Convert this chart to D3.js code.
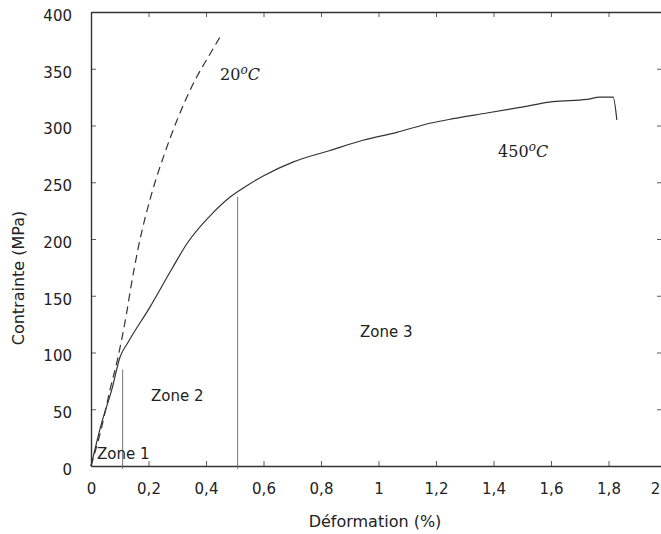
<!DOCTYPE html>
<html>
<head>
<meta charset="utf-8">
<script src="https://cdn.jsdelivr.net/npm/d3@7"></script>
<style>
  body { margin: 0; background: #fff; overflow: hidden; }
  svg { display: block; }
  .axis path, .axis line { stroke: #333; }
  .axis text { font-family: "DejaVu Sans", sans-serif; font-size: 15px; fill: #222; }
</style>
</head>
<body>
<svg id="chart" width="661" height="534"></svg>
<script>
// 450 °C curve (strain %, stress MPa)
const strain450 = [0, 0.037, 0.072, 0.101, 0.129, 0.205, 0.282, 0.334, 0.424, 0.484, 0.542, 0.599, 0.704, 0.831, 0.946, 1.064, 1.179, 1.259, 1.377, 1.492, 1.607, 1.725, 1.770, 1.816, 1.829];
const stress450 = [0, 38, 67, 96, 109, 140, 174, 196, 223, 237, 247, 255.5, 268, 278, 287, 294, 302, 306, 311, 316, 321, 323, 325, 325, 305];

// 20 °C curve
const strain20 = [0, 0.037, 0.066, 0.094, 0.124, 0.139, 0.165, 0.211, 0.257, 0.303, 0.362, 0.407, 0.449];
const stress20 = [0, 34, 67, 96, 135, 158, 193, 240, 276, 307, 340, 360, 378];

// zone limits
const zoneStrain = [0.11, 0.51];
const zoneTop = [85, 237];
const zoneNames = ['Zone 1', 'Zone 2', 'Zone 3'];

const xTicks = [0, 0.2, 0.4, 0.6, 0.8, 1, 1.2, 1.4, 1.6, 1.8, 2];
const yTicks = [0, 50, 100, 150, 200, 250, 300, 350, 400];

(function() {
const svg = d3.select('#chart');
const m = { left: 91, right: 666, top: 12, bottom: 466 };

const x = d3.scaleLinear().domain([0, 2]).range([m.left, m.right]);
const y = d3.scaleLinear().domain([0, 400]).range([m.bottom, m.top]);

const fmt = d => String(d).replace('.', ',');

// axes (ticks pointing inward)
svg.append('g')
    .attr('class', 'axis')
    .attr('transform', `translate(0,${m.bottom})`)
    .call(d3.axisBottom(x).tickValues(xTicks).tickFormat(fmt).tickSizeInner(-5).tickSizeOuter(0).tickPadding(17))
    .call(g => g.selectAll('.tick:last-of-type text').attr('x', -11));

svg.append('g')
    .attr('class', 'axis')
    .attr('transform', `translate(${m.left},0)`)
    .call(d3.axisLeft(y).tickValues(yTicks).tickSizeInner(-5).tickSizeOuter(0).tickPadding(19))
    .call(g => g.selectAll('.tick text').attr('dy', '0.62em').attr('y', -1));

svg.append('g')
    .attr('class', 'axis')
    .attr('transform', `translate(0,${m.top})`)
    .call(d3.axisTop(x).tickValues(xTicks).tickFormat('').tickSizeInner(-5).tickSizeOuter(0));

// right frame lies just past the picture edge: only its tick stubs show
svg.append('g')
    .attr('class', 'axis right')
    .attr('transform', `translate(${m.right},0)`)
    .call(d3.axisRight(y).tickValues(yTicks).tickFormat('').tickSizeInner(-9).tickSizeOuter(0))
    .call(g => g.select('.domain').remove());

svg.selectAll('.axis path').attr('stroke-width', 1.4);
svg.selectAll('.axis line').attr('stroke-width', 0.8).attr('stroke', '#999');
svg.selectAll('.right line').attr('stroke', '#ccc');

// axis titles
svg.append('text')
    .attr('x', 375).attr('y', 527)
    .attr('text-anchor', 'middle')
    .style('font-family', '"DejaVu Sans", sans-serif')
    .style('font-size', '16px')
    .attr('fill', '#222')
    .text('Déformation (%)');

svg.append('text')
    .attr('transform', 'translate(24,278) rotate(-90)')
    .attr('text-anchor', 'middle')
    .style('font-family', '"DejaVu Sans", sans-serif')
    .style('font-size', '16px')
    .attr('fill', '#222')
    .text('Contrainte (MPa)');

// zone separators
svg.selectAll('.zone-line')
    .data(zoneStrain)
    .enter().append('line')
    .attr('class', 'zone-line')
    .attr('x1', d => x(d)).attr('x2', d => x(d))
    .attr('y1', y(0) + 3)
    .attr('y2', (d, i) => y(zoneTop[i]))
    .attr('stroke', '#666')
    .attr('stroke-width', 0.9);

// curves
const line = d3.line().x(d => x(d[0])).y(d => y(d[1])).curve(d3.curveMonotoneX);

svg.append('path')
    .datum(d3.zip(strain20, stress20))
    .attr('d', line)
    .attr('fill', 'none')
    .attr('stroke', '#333')
    .attr('stroke-width', 1.2)
    .attr('stroke-dasharray', '8,5');

svg.append('path')
    .datum(d3.zip(strain450, stress450))
    .attr('d', line)
    .attr('fill', 'none')
    .attr('stroke', '#333')
    .attr('stroke-width', 1.2);

// zone labels
const zonePos = [[0.021, 6], [0.209, 57], [0.936, 114]];
svg.selectAll('.zone-label')
    .data(zoneNames)
    .enter().append('text')
    .attr('class', 'zone-label')
    .attr('x', (d, i) => x(zonePos[i][0]))
    .attr('y', (d, i) => y(zonePos[i][1]))
    .style('font-family', '"DejaVu Sans", sans-serif')
    .style('font-size', '15px')
    .attr('fill', '#222')
    .text(d => d);

// temperature labels, LaTeX-like
function tempLabel(num, px, py) {
    const t = svg.append('text')
        .attr('x', x(px)).attr('y', y(py))
        .style('font-family', '"DejaVu Serif", "Liberation Serif", serif')
        .style('font-size', '16px')
        .attr('fill', '#222');
    t.append('tspan').text(num);
    t.append('tspan').attr('dy', -6).style('font-size', '12px').style('font-style', 'italic').text('o');
    t.append('tspan').attr('dy', 6).style('font-style', 'italic').text('C');
}
tempLabel('20', 0.449, 340);
tempLabel('450', 1.416, 272);
})();
</script>
</body>
</html>
